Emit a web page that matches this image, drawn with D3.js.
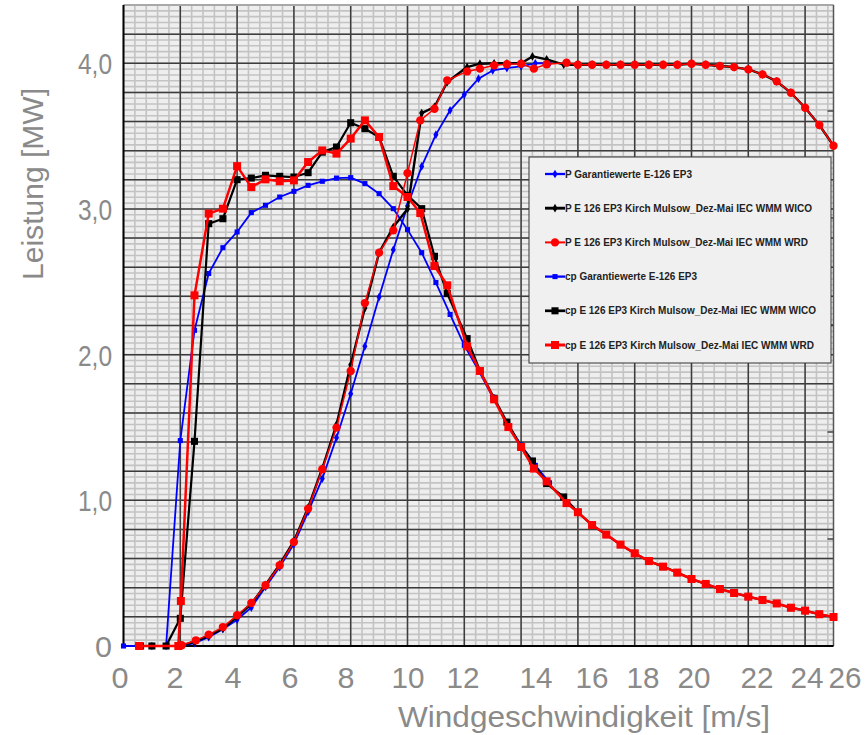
<!DOCTYPE html>
<html>
<head>
<meta charset="utf-8">
<script src="https://cdn.jsdelivr.net/npm/d3@7"></script>
<style>
  body { margin: 0; background: #fff; }
  svg { display: block; }
</style>
</head>
<body>
<div id="chart"></div>
<script>
// wind speeds [m/s] and values as read on the left axis
var windPGar = [1, 1.5, 2, 2.5, 3, 3.5, 4, 4.5, 5, 5.5, 6, 6.5, 7, 7.5, 8, 8.5, 9, 9.5, 10, 10.5, 11, 11.5, 12, 12.5, 13, 13.5, 14, 14.5, 15];
var pGar = [0, 0, 0, 0.02, 0.06, 0.115, 0.181, 0.264, 0.405, 0.542, 0.70, 0.92, 1.149, 1.43, 1.732, 2.057, 2.395, 2.72, 3.02, 3.292, 3.51, 3.677, 3.785, 3.894, 3.951, 3.967, 3.979, 4.0, 4.0];

var windPWico = [2, 2.5, 3, 3.5, 4, 4.5, 5, 5.5, 6, 6.5, 7, 7.5, 8, 8.5, 9, 9.5, 10, 10.5, 10.95, 11.4, 12.1, 12.55, 13.05, 13.5, 14, 14.4, 14.9, 15.5, 16, 16.5, 17, 17.5, 18, 18.5, 19, 19.5, 20, 20.5, 21, 21.5, 22, 22.5, 23, 23.5, 24, 24.5, 25];
var pWico = [0, 0.03, 0.07, 0.12, 0.2, 0.29, 0.42, 0.56, 0.72, 0.95, 1.22, 1.52, 1.93, 2.32, 2.70, 2.876, 3.0, 3.658, 3.70, 3.871, 3.974, 3.997, 4.0, 4.0, 4.0, 4.047, 4.027, 3.99, 3.99, 3.99, 3.99, 3.99, 3.99, 3.99, 3.99, 3.99, 3.997, 3.99, 3.981, 3.974, 3.958, 3.924, 3.876, 3.798, 3.695, 3.576, 3.434];

var windPWrd = [2.05, 2.55, 3, 3.5, 4, 4.5, 5, 5.5, 6, 6.5, 7, 7.5, 8, 8.5, 9, 9.5, 10, 10.45, 10.95, 11.4, 12.1, 12.55, 13.05, 13.5, 14, 14.45, 14.9, 15.6, 16, 16.5, 17, 17.5, 18, 18.5, 19, 19.5, 20, 20.5, 21, 21.5, 22, 22.5, 23, 23.5, 24, 24.5, 25];
var pWrd = [0.005, 0.039, 0.078, 0.13, 0.211, 0.295, 0.417, 0.554, 0.714, 0.943, 1.213, 1.499, 1.888, 2.354, 2.70, 2.853, 3.246, 3.608, 3.688, 3.883, 3.944, 3.963, 3.986, 3.993, 3.997, 3.963, 3.993, 4.004, 3.99, 3.99, 3.99, 3.99, 3.99, 3.99, 3.99, 3.99, 3.997, 3.99, 3.981, 3.974, 3.958, 3.924, 3.876, 3.798, 3.695, 3.576, 3.434];

var windCpGar = [0, 0.5, 1, 1.5, 2, 2.5, 3, 3.5, 4, 4.5, 5, 5.5, 6, 6.5, 7, 7.5, 8, 8.5, 9, 9.5, 10, 10.5, 11, 11.5, 12, 12.5, 13, 13.5, 14, 14.5, 15];
var cpGar = [0, 0, 0, 0, 1.41, 2.167, 2.557, 2.734, 2.842, 2.975, 3.025, 3.082, 3.121, 3.162, 3.19, 3.212, 3.215, 3.174, 3.105, 3.002, 2.858, 2.70, 2.495, 2.276, 2.064, 1.892, 1.709, 1.53, 1.38, 1.24, 1.12];

var windCpWico = [0.6, 1, 1.5, 2, 2.5, 3, 3.5, 4, 4.5, 5, 5.5, 6, 6.5, 7, 7.5, 8, 8.5, 9, 9.5, 10, 10.5, 10.95, 11.4, 12.1, 12.55, 13.05, 13.5, 14, 14.4, 14.9, 15.5, 16, 16.5, 17, 17.5, 18, 18.5, 19, 19.5, 20, 20.5, 21, 21.5, 22, 22.5, 23, 23.5, 24, 24.5, 25];
var cpWico = [0, 0, 0, 0.19, 1.405, 2.899, 2.933, 3.201, 3.212, 3.231, 3.224, 3.219, 3.249, 3.39, 3.425, 3.592, 3.551, 3.494, 3.224, 3.093, 3.002, 2.675, 2.419, 2.11, 1.89, 1.70, 1.537, 1.37, 1.27, 1.115, 1.023, 0.918, 0.83, 0.765, 0.696, 0.636, 0.583, 0.545, 0.504, 0.46, 0.426, 0.391, 0.364, 0.339, 0.316, 0.292, 0.263, 0.243, 0.218, 0.199];

var windCpWrd = [0.55, 1.93, 2.02, 2.5, 3, 3.5, 4, 4.5, 5, 5.5, 6, 6.5, 7, 7.5, 8, 8.5, 9, 9.5, 10, 10.45, 10.95, 11.4, 12.1, 12.55, 13.05, 13.55, 14, 14.45, 14.9, 15.6, 16, 16.5, 17, 17.5, 18, 18.5, 19, 19.5, 20, 20.5, 21, 21.5, 22, 22.5, 23, 23.5, 24, 24.5, 25];
var cpWrd = [0, 0, 0.309, 2.407, 2.968, 3.002, 3.294, 3.15, 3.203, 3.19, 3.196, 3.322, 3.402, 3.38, 3.483, 3.608, 3.494, 3.157, 3.082, 2.972, 2.608, 2.476, 2.057, 1.888, 1.693, 1.503, 1.366, 1.218, 1.13, 0.981, 0.918, 0.83, 0.765, 0.696, 0.636, 0.583, 0.545, 0.504, 0.46, 0.426, 0.391, 0.364, 0.339, 0.316, 0.292, 0.263, 0.243, 0.218, 0.199];

var yTicks = [0, 1, 2, 3, 4];
var yTickLabels = ["0", "1,0", "2,0", "3,0", "4,0"];
var xTickLabels = [0, 2, 4, 6, 8, 10, 12, 14, 16, 18, 20, 22, 24, 26];
var cpTicks = [0.1, 0.2, 0.3, 0.4, 0.5];

var legendNames = [
  "P Garantiewerte E-126 EP3",
  "P E 126 EP3 Kirch Mulsow_Dez-Mai IEC WMM WICO",
  "P E 126 EP3 Kirch Mulsow_Dez-Mai IEC WMM WRD",
  "cp Garantiewerte E-126 EP3",
  "cp E 126 EP3 Kirch Mulsow_Dez-Mai IEC WMM WICO",
  "cp E 126 EP3 Kirch Mulsow_Dez-Mai IEC WMM WRD"
];

var width = 865, height = 735;

var svg = d3.select("#chart").append("svg")
  .attr("width", width)
  .attr("height", height);

var x = d3.scaleLinear().domain([0, 25]).range([123.5, 833.5]);
var y = d3.scaleLinear().domain([0, 4.4]).range([646, 5]);
var yCp = d3.scaleLinear().domain([0, 0.6]).range([646, 4]);
// tick labels sit a bit off the grid in the original picture
var xLab = d3.scaleLinear()
  .domain(xTickLabels)
  .range([120, 175, 233, 290, 346, 408, 463, 536, 592, 643, 694, 757, 807, 845]);

// plot background + grid
svg.append("rect")
  .attr("x", x(0)).attr("y", y(4.4))
  .attr("width", x(25) - x(0)).attr("height", y(0) - y(4.4))
  .attr("fill", "#eeeeee");

var grid = svg.append("g");
grid.selectAll(".vmin")
  .data(d3.range(0, 25.001, 0.4))
  .enter().append("line")
  .attr("x1", d => x(d)).attr("x2", d => x(d))
  .attr("y1", y(0)).attr("y2", y(4.4))
  .attr("stroke", "#c3c3c3").attr("stroke-width", 1.6);
grid.selectAll(".hmin")
  .data(d3.range(0, 4.4001, 0.04))
  .enter().append("line")
  .attr("x1", x(0)).attr("x2", x(25))
  .attr("y1", d => y(d)).attr("y2", d => y(d))
  .attr("stroke", "#c3c3c3").attr("stroke-width", 1.6);
grid.selectAll(".vmaj")
  .data(d3.range(2, 25, 2))
  .enter().append("line")
  .attr("x1", d => x(d)).attr("x2", d => x(d))
  .attr("y1", y(0)).attr("y2", y(4.4))
  .attr("stroke", "#3c3c3c").attr("stroke-width", 1.5);
grid.selectAll(".hmaj")
  .data(d3.range(0.2, 4.4, 0.2))
  .enter().append("line")
  .attr("x1", x(0)).attr("x2", x(25))
  .attr("y1", d => y(d)).attr("y2", d => y(d))
  .attr("stroke", "#3c3c3c").attr("stroke-width", 1.5);

// frame
svg.append("line").attr("x1", x(0)).attr("x2", x(25)).attr("y1", y(4.4)).attr("y2", y(4.4))
  .attr("stroke", "#a8a8a8").attr("stroke-width", 2);
svg.append("line").attr("x1", x(25)).attr("x2", x(25)).attr("y1", y(4.4)).attr("y2", y(0))
  .attr("stroke", "#555").attr("stroke-width", 1.5);
svg.append("line").attr("x1", x(0)).attr("x2", x(0)).attr("y1", y(4.4)).attr("y2", y(0))
  .attr("stroke", "#000").attr("stroke-width", 2);
svg.append("line").attr("x1", x(0)).attr("x2", x(25)).attr("y1", y(0)).attr("y2", y(0))
  .attr("stroke", "#000").attr("stroke-width", 2);

// cp ticks on the right edge
svg.selectAll(".cptick")
  .data(cpTicks)
  .enter().append("line")
  .attr("x1", x(25) - 6).attr("x2", x(25))
  .attr("y1", d => yCp(d)).attr("y2", d => yCp(d))
  .attr("stroke", "#444").attr("stroke-width", 1.5);

// series
function series(wind, vals, o) {
  var pts = wind.map((w, i) => [w, vals[i]]);
  var g = svg.append("g");
  g.append("path")
    .datum(pts)
    .attr("fill", "none")
    .attr("stroke", o.color)
    .attr("stroke-width", o.lw)
    .attr("stroke-linejoin", "round")
    .attr("d", d3.line().x(d => x(d[0])).y(d => y(d[1])));
  var sym = d3.symbol().type(o.shape).size(o.size);
  g.selectAll("path.m")
    .data(pts)
    .enter().append("path")
    .attr("class", "m")
    .attr("transform", d => "translate(" + x(d[0]) + "," + y(d[1]) + ")")
    .attr("d", sym)
    .attr("fill", o.color);
}

var styles = [
  { color: "#0000ff", lw: 1.8, shape: d3.symbolDiamond, size: 22 },
  { color: "#000000", lw: 2.4, shape: d3.symbolDiamond, size: 22 },
  { color: "#ff0000", lw: 1.5, shape: d3.symbolCircle, size: 55 },
  { color: "#0000ff", lw: 1.8, shape: d3.symbolSquare, size: 26 },
  { color: "#000000", lw: 2.2, shape: d3.symbolSquare, size: 50 },
  { color: "#ff0000", lw: 2.5, shape: d3.symbolSquare, size: 64 }
];

series(windCpGar, cpGar, styles[3]);
series(windPGar, pGar, styles[0]);
series(windCpWico, cpWico, styles[4]);
series(windPWico, pWico, styles[1]);
series(windCpWrd, cpWrd, styles[5]);
series(windPWrd, pWrd, styles[2]);

// axis labels
var axisFont = "Liberation Sans, Arial, sans-serif";
svg.selectAll(".ylab")
  .data(yTicks)
  .enter().append("text")
  .attr("x", 112)
  .attr("y", d => y(d) + 11)
  .attr("text-anchor", "end")
  .attr("font-family", axisFont)
  .attr("font-size", 30)
  .attr("fill", "#8a8a8a")
  .attr("textLength", (d, i) => i === 0 ? 17 : 34)
  .attr("lengthAdjust", "spacingAndGlyphs")
  .text((d, i) => yTickLabels[i]);

svg.selectAll(".xlab")
  .data(xTickLabels)
  .enter().append("text")
  .attr("x", d => xLab(d))
  .attr("y", 688)
  .attr("text-anchor", "middle")
  .attr("font-family", axisFont)
  .attr("font-size", 30)
  .attr("fill", "#8a8a8a")
  .attr("textLength", d => d < 10 ? 17 : 33)
  .attr("lengthAdjust", "spacingAndGlyphs")
  .text(d => d);

svg.append("text")
  .attr("x", 584).attr("y", 727)
  .attr("text-anchor", "middle")
  .attr("font-family", axisFont)
  .attr("font-size", 30)
  .attr("fill", "#8a8a8a")
  .attr("textLength", 372)
  .attr("lengthAdjust", "spacingAndGlyphs")
  .text("Windgeschwindigkeit [m/s]");

svg.append("text")
  .attr("transform", "translate(43,184) rotate(-90)")
  .attr("text-anchor", "middle")
  .attr("font-family", axisFont)
  .attr("font-size", 30)
  .attr("fill", "#8a8a8a")
  .attr("textLength", 192)
  .attr("lengthAdjust", "spacingAndGlyphs")
  .text("Leistung [MW]");

// legend
var legend = svg.append("g").attr("transform", "translate(529,157)");
legend.append("rect")
  .attr("width", 302).attr("height", 206)
  .attr("fill", "#f0f0f0")
  .attr("stroke", "#333").attr("stroke-width", 1);

var legendW = [127, 247, 243, 132, 251, 249];
var legendOrder = [0, 1, 2, 3, 4, 5];
var items = legend.selectAll(".item")
  .data(legendOrder)
  .enter().append("g")
  .attr("transform", d => "translate(0," + (17 + d * 34.2) + ")");
items.append("line")
  .attr("x1", 16).attr("x2", 36)
  .attr("stroke", d => styles[d].color)
  .attr("stroke-width", d => styles[d].lw + 0.5);
items.append("path")
  .attr("transform", "translate(26,0)")
  .attr("d", d => d3.symbol().type(styles[d].shape).size(styles[d].size)())
  .attr("fill", d => styles[d].color);
items.append("text")
  .attr("x", 36).attr("y", 3.5)
  .attr("font-family", axisFont)
  .attr("font-size", 10)
  .attr("font-weight", "bold")
  .attr("fill", "#222")
  .attr("textLength", d => legendW[d])
  .attr("lengthAdjust", "spacingAndGlyphs")
  .text(d => legendNames[d]);
</script>
</body>
</html>
